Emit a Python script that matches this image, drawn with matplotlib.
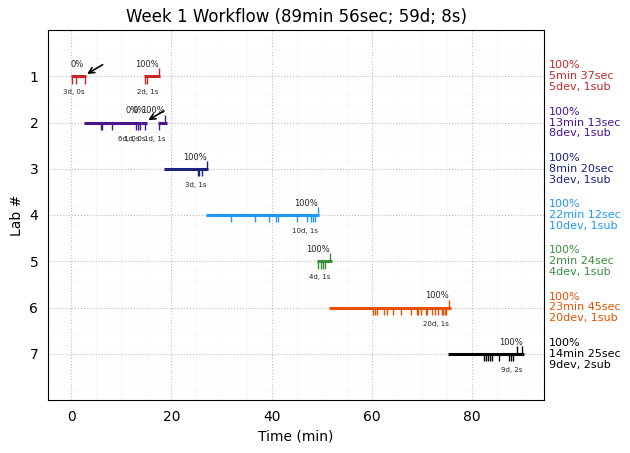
import matplotlib
matplotlib.use('Agg')
import matplotlib.pyplot as plt

labs = [1, 2, 3, 4, 5, 6, 7]
colors = ['#c62828', '#4a148c', '#1a237e', '#2196f3', '#388e3c', '#e65100', '#000000']

# one (start, end) per work session, in minutes
sessions = [
    [(0.0, 2.9), (14.6, 17.8)],
    [(2.5, 13.9), (13.9, 15.1), (17.4, 19.1)],
    [(18.5, 27.4)],
    [(26.9, 49.5)],
    [(49.1, 52.0)],
    [(51.4, 75.7)],
    [(75.2, 90.3)],
]
session_pct = [
    ['0%', '100%'],
    ['0%', '0%', '100%'],
    ['100%'], ['100%'], ['100%'], ['100%'], ['100%'],
]
session_counts = [
    ['3d, 0s', '2d, 1s'],
    ['6d, 0s', '1d, 0s', '1d, 1s'],
    ['3d, 1s'], ['10d, 1s'], ['4d, 1s'], ['20d, 1s'], ['9d, 2s'],
]

dev_times = [
    [0.1, 0.9, 2.7, 14.8, 15.2],
    [5.9, 6.2, 8.2, 12.9, 13.3, 13.8, 14.8, 17.6],
    [25.4, 25.6, 26.1],
    [31.8, 36.6, 39.5, 40.9, 41.3, 45.1, 47.1, 47.8, 48.3, 48.7],
    [49.3, 49.9, 50.3, 50.7],
    [60.3, 60.6, 61.1, 62.4, 62.9, 64.2, 65.7, 67.7, 68.9, 69.1,
     69.8, 70.8, 71.0, 72.0, 72.6, 73.2, 73.9, 74.2, 74.5, 74.8],
    [82.4, 82.8, 83.2, 83.6, 84.0, 85.4, 87.3, 87.7, 88.2],
]
sub_times = [[17.6], [18.8], [27.2], [49.3], [51.7], [75.4], [88.9, 90.0]]

side_pct = ['100%'] * 7
side_time = ['5min 37sec', '13min 13sec', '8min 20sec', '22min 12sec',
             '2min 24sec', '23min 45sec', '14min 25sec']
side_count = ['5dev, 1sub', '8dev, 1sub', '3dev, 1sub', '10dev, 1sub',
              '4dev, 1sub', '20dev, 1sub', '9dev, 2sub']

fig, ax = plt.subplots(figsize=(6.3, 4.53), dpi=100)
fig.subplots_adjust(left=48 / 630, right=544 / 630, top=1 - 30 / 453, bottom=1 - 400 / 453)

for i, lab in enumerate(labs):
    c = colors[i]
    for j, (start, end) in enumerate(sessions[i]):
        ax.plot([start, end], [lab, lab], color=c, lw=2.2, solid_capstyle='butt', zorder=3)
        ax.text(end - 0.3, lab - 0.155, session_pct[i][j], fontsize=6, ha='right', va='bottom', color='#222222')
        ax.text(end - 0.3, lab + 0.35, session_counts[i][j], fontsize=5, ha='right', va='center', color='#222222')
        # arrow marks a session that ended unfinished right before a break
        if session_pct[i][j] == '0%' and j + 1 < len(sessions[i]) and sessions[i][j + 1][0] > end:
            ax.annotate('', xy=(end + 0.3, lab - 0.05), xytext=(end + 3.4, lab - 0.25),
                        arrowprops=dict(arrowstyle='->', color='black', lw=1.2, mutation_scale=10,
                                        shrinkA=0, shrinkB=0))
    ax.vlines(dev_times[i], lab, lab + 0.16, color=c, lw=1, zorder=3)
    ax.vlines(sub_times[i], lab - 0.17, lab, color=c, lw=1, zorder=3)
    ax.text(95.2, lab, side_pct[i] + '\n' + side_time[i] + '\n' + side_count[i],
            color=c, fontsize=8, ha='left', va='center', linespacing=1.1, clip_on=False)

ax.set_xlim(-4.59, 94.3)
ax.set_ylim(8, 0)
ax.set_yticks(labs)
ax.set_xticks([0, 20, 40, 60, 80])
ax.set_xticks(range(5, 95, 5), minor=True)
ax.set_yticks([y / 5 for y in range(1, 40)], minor=True)
ax.grid(True, which='major', color='#bbbbbb', ls=':', lw=0.8)
ax.grid(True, which='minor', color='#f7f7f7', ls='-', lw=0.6)
ax.tick_params(which='minor', length=0)
ax.tick_params(which='major', length=0, pad=7, labelsize=10)
ax.set_axisbelow(True)
ax.set_xlabel('Time (min)')
ax.set_ylabel('Lab #')
ax.set_title('Week 1 Workflow (89min 56sec; 59d; 8s)')

plt.savefig('out.png', dpi=100)
